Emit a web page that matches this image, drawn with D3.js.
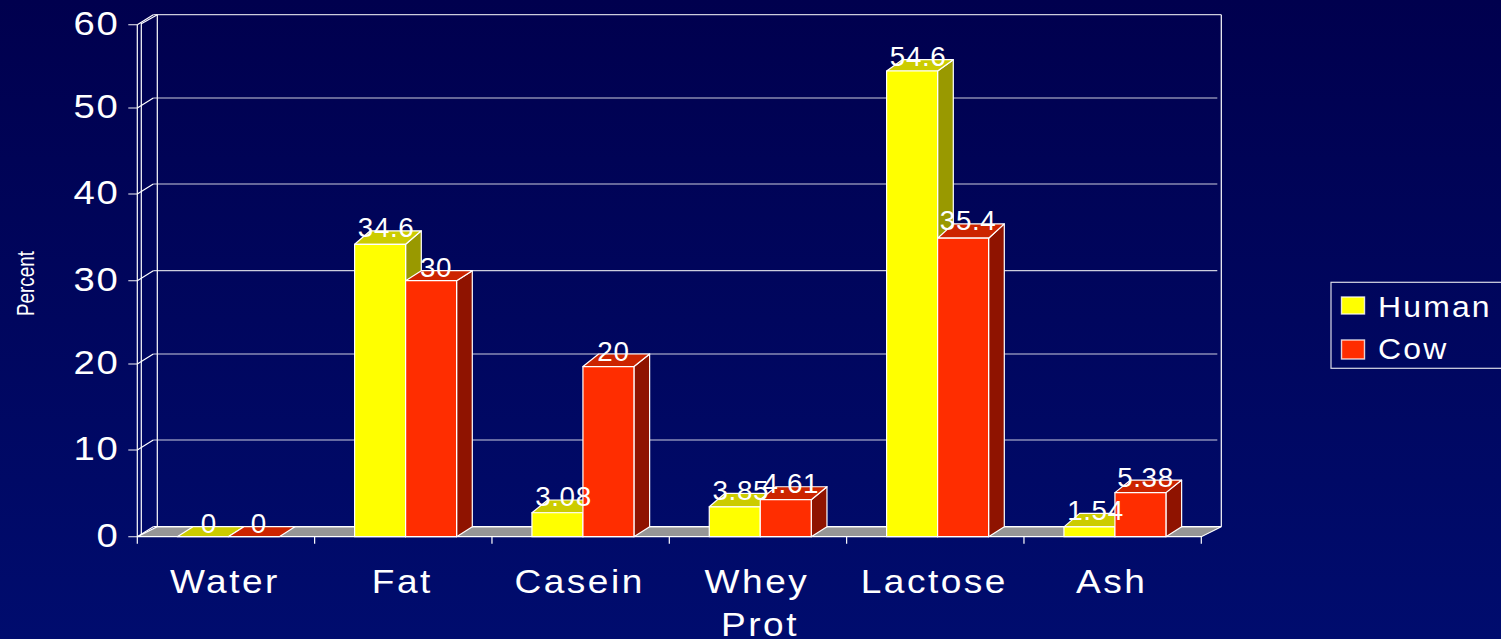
<!DOCTYPE html>
<html><head><meta charset="utf-8">
<script src="https://cdn.jsdelivr.net/npm/d3@7"></script>
<style>
html,body{margin:0;padding:0;background:#000c6e;overflow:hidden}
text{font-family:"Liberation Sans",Arial,sans-serif;fill:#fff}
</style></head><body>
<script>
const categories = ["Water","Fat","Casein","Whey Prot","Lactose","Ash"];
const seriesNames = ["Human","Cow"];
const humanValues = [0,34.6,3.08,3.85,54.6,1.54];
const cowValues = [0,30,20,4.61,35.4,5.38];
// height of each block's front face (a little under the printed value)
const humanFront = [0,34.2,2.76,3.45,54.44,1.13];
const cowFront = [0,30,19.7,4.27,34.9,5.08];
const yTicks = [0,10,20,30,40,50,60];

const W=1501,H=639;
const colors={Human:{front:"#ffff00",top:"#cccc00",side:"#999900"},Cow:{front:"#ff2d00",top:"#cc2400",side:"#8f1300"}};
const svg=d3.select("body").append("svg").attr("width",W).attr("height",H).style("display","block");
const g=svg.append("defs").append("linearGradient").attr("id","bg").attr("x1",0).attr("y1",0).attr("x2",0).attr("y2",1);
g.append("stop").attr("offset",0).attr("stop-color","#00004e");
g.append("stop").attr("offset",1).attr("stop-color","#000c6e");
svg.append("rect").attr("width",W).attr("height",H).attr("fill","url(#bg)");

const x0=137.3,x1=1201.3,dx=20,dy=10,bdx=15.7,bdy=10;
// The value axis of the original is drawn with slightly uneven tick spacing
const y=d3.scaleLinear().domain(yTicks).range([536.7,450,364,280.7,194,108,24.7]);
const xTick=d3.scaleBand().domain(categories).range([x0,x1]);
const xBar=d3.scaleBand().domain(categories).range([x0+2.3,x1+2.3]);
const barW=51;
const barStart=c=>xBar(c)+(xBar.bandwidth()-2*barW)/2;
const line="#ffffff";

function stretched(parent,str,px,py,size,sx,anchor,spacing){
  return parent.append("text").attr("transform",`translate(${px},${py}) scale(${sx},1)`)
    .attr("font-size",size).attr("text-anchor",anchor||"middle").style("letter-spacing",(spacing||0)+"px").text(str);
}

// floor
svg.append("polygon").attr("points",[[x0,y(0)],[x1,y(0)],[x1+dx,y(0)-dy],[x0+dx,y(0)-dy]].join(" "))
  .attr("fill","#969696").attr("stroke",line).attr("stroke-width",1.2);
// walls
const wall=svg.append("g").attr("stroke",line).attr("fill","none").attr("stroke-width",1.2);
wall.append("line").attr("x1",x0+dx).attr("x2",x0+dx).attr("y1",y(60)-dy).attr("y2",y(0)-dy);
wall.append("line").attr("x1",x1+dx).attr("x2",x1+dx).attr("y1",y(60)-dy).attr("y2",y(0)-dy);
wall.append("line").attr("x1",x0+4).attr("x2",x0+4).attr("y1",y(60)-2).attr("y2",y(0)-2);
wall.append("line").attr("x1",x0).attr("x2",x0).attr("y1",y(60)).attr("y2",y(0)+7);
yTicks.forEach(t=>{
  wall.append("line").attr("x1",x0+dx-4).attr("x2",t===60?x1+dx:x1+dx-4).attr("y1",y(t)-dy).attr("y2",y(t)-dy).attr("stroke-opacity",t===0?1:.8);
  wall.append("line").attr("x1",x0).attr("x2",x0+dx-4).attr("y1",y(t)).attr("y2",y(t)-dy);
  wall.append("line").attr("x1",x0-9).attr("x2",x0).attr("y1",y(t)).attr("y2",y(t)).attr("stroke-opacity",.8);
});
wall.append("line").attr("x1",x0+4).attr("x2",x0+dx).attr("y1",y(60)-1).attr("y2",y(60)-dy);
// category ticks
const tickXs=categories.slice(1).map(c=>xTick(c)).concat(x1);
svg.append("g").attr("stroke",line).attr("stroke-width",1.2).selectAll("line").data(tickXs).join("line")
  .attr("x1",d=>d).attr("x2",d=>d).attr("y1",y(0)).attr("y2",y(0)+7);

// bars
function bar(group,val,front,col,left){
  const yf=y(front),yk=y(val)-bdy,yb=y(0),r=left+barW;
  const p=(pts,f)=>group.append("polygon").attr("points",pts.join(" ")).attr("fill",f)
    .attr("stroke",line).attr("stroke-width",1.2).attr("stroke-linejoin","round");
  if(val>0)p([[r,yf],[r+bdx,yk],[r+bdx,yb-bdy],[r,yb]],col.side);
  p([[left,yf],[r,yf],[r+bdx,yk],[left+bdx,yk]],col.top);
  if(val>0)p([[left,yf],[r,yf],[r,yb],[left,yb]],col.front);
}
const bars=svg.append("g");
categories.forEach((c,i)=>{
  const l=barStart(c);
  bar(bars,humanValues[i],humanFront[i],colors.Human,l);
  bar(bars,cowValues[i],cowFront[i],colors.Cow,l+barW);
});

// data labels
const lab=svg.append("g");
categories.forEach((c,i)=>{
  const l=barStart(c);
  stretched(lab,String(humanValues[i]),l+barW/2+6,y(humanValues[i])-3.5,27,1.03,"middle",.6);
  stretched(lab,String(cowValues[i]),l+barW*1.5+5,y(cowValues[i])-3.5,27,1.03,"middle",.6);
});

// y axis labels
const yl=svg.append("g");
yTicks.forEach(t=>stretched(yl,String(t),119.5,y(t)+10,33,1.16,"end",1.5));

// category labels
const catLabels=svg.append("g");
categories.forEach(c=>{
  const cx=xTick(c)+xTick.bandwidth()/2-1;
  c.split(" ").forEach((w,i)=>stretched(catLabels,w,cx+(i?3:0),592.7+i*43,32.5,1.14,"middle",2.2));
});

// y title
svg.append("text").attr("transform","translate(34,283.5) rotate(-90) scale(.77,1)").attr("font-size",24.5).attr("text-anchor","middle").text("Percent");

// legend
const leg=svg.append("g");
leg.append("rect").attr("x",1331).attr("y",282.3).attr("width",175).attr("height",86).attr("fill","none").attr("stroke","#fff").attr("stroke-opacity",.85).attr("stroke-width",1.2);
seriesNames.forEach((n,i)=>{
  const yy=297+43*i;
  leg.append("rect").attr("x",1341.5).attr("y",yy).attr("width",23).attr("height",17+i*2).attr("fill",colors[n].front).attr("stroke","#fff").attr("stroke-opacity",.8).attr("stroke-width",1.4);
  stretched(leg,n,1378,316.7+i*42.6,29,1.1,"start",2);
});
</script></body></html>
